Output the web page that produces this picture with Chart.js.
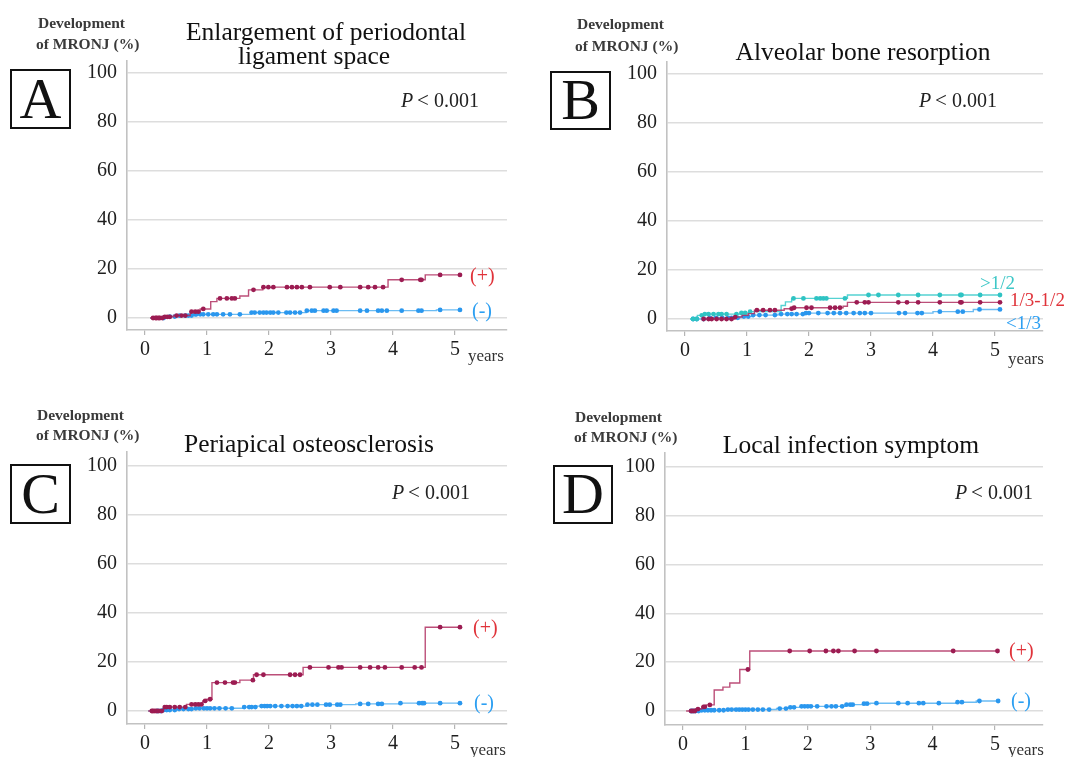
<!DOCTYPE html>
<html><head><meta charset="utf-8">
<script src="https://cdn.jsdelivr.net/npm/chart.js@4.4.1/dist/chart.umd.min.js"></script>
<style>
html,body{margin:0;padding:0;background:#fff;}
#wrap{position:relative;width:1070px;height:757px;overflow:hidden;background:#fff;}
canvas{position:absolute;}
</style></head><body>
<div id="wrap">
<canvas id="cA" width="535" height="379" style="left:0;top:0"></canvas>
<canvas id="cB" width="535" height="379" style="left:535px;top:0"></canvas>
<canvas id="cC" width="535" height="378" style="left:0;top:379px"></canvas>
<canvas id="cD" width="535" height="378" style="left:535px;top:379px"></canvas>
</div>
<script>
// ---------- DATA ----------
const xTicks = [0, 1, 2, 3, 4, 5];
const yTicks = [0, 20, 40, 60, 80, 100];

// Panel A: Enlargement of periodontal ligament space
const aPlusTimes  = [0.08, 0.30, 0.46, 0.73, 0.89, 1.06, 1.16, 1.53, 1.67, 1.90, 3.92, 4.52];
const aPlusValues = [0, 0.5, 1.0, 2.6, 3.7, 6.7, 8.0, 9.0, 11.5, 12.6, 15.6, 17.6];
const aPlusCensor = [0.13,0.17,0.19,0.22,0.24,0.28,0.32,0.36,0.40,0.51,0.59,0.65,0.75,0.81,0.86,0.94,1.21,1.32,1.40,1.45,1.75,1.91,1.99,2.07,2.29,2.37,2.45,2.53,2.66,2.98,3.15,3.47,3.60,3.71,3.84,4.14,4.44,4.46,4.76,5.08];
const aMinusTimes  = [0.08, 0.35, 0.55, 0.80, 1.70, 2.60, 4.70];
const aMinusValues = [0, 0.6, 1.0, 1.5, 2.2, 3.0, 3.3];
const aMinusCensor = [0.30,0.40,0.48,0.56,0.65,0.70,0.75,0.81,0.83,0.89,0.94,1.02,1.10,1.16,1.26,1.37,1.53,1.72,1.77,1.85,1.91,1.96,2.02,2.07,2.15,2.28,2.34,2.42,2.50,2.61,2.69,2.74,2.88,2.93,3.04,3.09,3.47,3.58,3.76,3.82,3.90,4.14,4.41,4.46,4.76,5.08];

// Panel B: Alveolar bone resorption
const bHighTimes  = [0.08, 0.20, 0.30, 0.90, 1.05, 1.55, 1.62, 1.72, 2.62];
const bHighValues = [0, 1.5, 2.0, 2.5, 3.0, 5.5, 7.0, 8.4, 9.8];
const bHighCensor = [0.13,0.19,0.27,0.32,0.38,0.46,0.54,0.59,0.67,0.83,0.91,0.97,1.05,1.75,1.91,2.12,2.18,2.23,2.28,2.58,2.96,3.12,3.44,3.76,4.11,4.44,4.46,4.76,5.08];
const bMidTimes  = [0.28, 0.80, 0.92, 1.02, 1.12, 1.60, 1.75, 2.55, 2.62];
const bMidValues = [0, 0.8, 1.5, 2.2, 3.6, 4.2, 4.6, 5.2, 6.8];
const bMidCensor = [0.30,0.38,0.43,0.51,0.59,0.67,0.75,0.81,1.16,1.26,1.37,1.45,1.72,1.76,1.96,2.04,2.34,2.42,2.50,2.77,2.90,2.96,3.44,3.58,3.76,4.11,4.44,4.46,4.76,5.08];
const bLowTimes  = [0.08, 0.40, 0.90, 1.10, 1.50, 1.95, 4.00, 4.65];
const bLowValues = [0, 0.5, 1.0, 1.6, 2.0, 2.4, 3.0, 3.9];
const bLowCensor = [0.13,0.19,0.30,0.40,0.50,0.60,0.70,0.75,0.85,0.95,1.02,1.10,1.20,1.30,1.45,1.55,1.65,1.72,1.80,1.90,1.95,2.00,2.15,2.30,2.40,2.50,2.60,2.72,2.82,2.90,3.00,3.45,3.55,3.75,3.82,4.11,4.40,4.48,4.75,5.08];

// Panel C: Periapical osteosclerosis
const cPlusTimes  = [0.05, 0.30, 0.67, 0.93, 1.00, 1.08, 1.53, 1.75, 2.55, 4.52];
const cPlusValues = [0, 1.6, 2.7, 4.1, 4.8, 11.6, 12.6, 14.8, 17.8, 34.2];
const cPlusCensor = [0.11,0.13,0.16,0.19,0.22,0.27,0.32,0.35,0.40,0.48,0.56,0.65,0.75,0.81,0.86,0.91,0.97,1.05,1.16,1.29,1.42,1.45,1.74,1.80,1.91,2.34,2.42,2.50,2.66,2.96,3.12,3.17,3.47,3.63,3.76,3.87,4.14,4.35,4.46,4.76,5.08];
const cMinusTimes  = [0.05, 0.30, 0.50, 0.80, 1.60, 1.80, 2.60, 3.40, 4.10];
const cMinusValues = [0, 0.4, 0.8, 1.1, 1.6, 2.0, 2.6, 2.9, 3.2];
const cMinusCensor = [0.20,0.25,0.30,0.35,0.40,0.48,0.55,0.62,0.70,0.75,0.82,0.88,0.95,1.00,1.05,1.12,1.20,1.30,1.40,1.60,1.68,1.72,1.78,1.88,1.93,1.97,2.02,2.10,2.20,2.30,2.38,2.45,2.52,2.62,2.70,2.78,2.92,2.98,3.10,3.15,3.47,3.60,3.76,3.82,4.12,4.42,4.47,4.50,4.76,5.08];

// Panel D: Local infection symptom
const dPlusTimes  = [0.05, 0.20, 0.30, 0.37, 0.50, 0.64, 0.75, 0.91, 1.07];
const dPlusValues = [0, 0.8, 1.7, 2.5, 8.6, 9.8, 11.5, 17.0, 24.6];
const dPlusCensor = [0.13,0.16,0.19,0.24,0.33,0.35,0.43,1.04,1.71,2.03,2.29,2.41,2.49,2.75,3.10,4.33,5.04];
const dMinusTimes  = [0.10, 0.30, 0.70, 1.50, 1.70, 1.90, 2.60, 2.90, 3.00, 4.40, 4.70];
const dMinusValues = [0, 0.3, 0.6, 1.0, 1.5, 1.9, 2.6, 3.0, 3.2, 3.6, 4.1];
const dMinusCensor = [0.13,0.16,0.20,0.25,0.30,0.35,0.40,0.45,0.50,0.58,0.65,0.72,0.78,0.85,0.90,0.95,1.00,1.05,1.12,1.20,1.28,1.38,1.55,1.65,1.72,1.78,1.90,1.95,2.00,2.05,2.15,2.30,2.38,2.45,2.55,2.62,2.68,2.72,2.90,2.95,3.10,3.45,3.60,3.78,3.85,4.10,4.40,4.47,4.75,5.05];

// ---------- STYLE ----------
const RED_LINE = 'rgba(176,48,98,0.85)', RED_DOT = '#9c1c52';
const BLUE_LINE = '#6bbcf3', BLUE_DOT = '#2a97ee';
const CYAN_LINE = '#55d2d2', CYAN_DOT = '#2fc3c3';
const LBL_RED = '#e0333a', LBL_BLUE = '#2c9ff2', LBL_CYAN = '#3ec7c7';
const SERIF = '"Liberation Serif", "Times New Roman", serif';
const TITLE_FONT = '25.5px ' + SERIF;

function stepAt(times, values, t) {
  let v = values[0];
  for (let i = 0; i < times.length; i++) if (times[i] <= t) v = values[i];
  return v;
}
function series(times, values, censor, lineColor, dotColor) {
  const end = censor[censor.length - 1];
  const line = times.map((t, i) => ({ x: t, y: values[i] }));
  line.push({ x: end, y: values[values.length - 1] });
  const dots = censor.map(c => ({ x: c, y: stepAt(times, values, c) }));
  return [
    { data: dots, showLine: false, pointRadius: 2.4, pointBackgroundColor: dotColor, pointBorderWidth: 0, borderColor: dotColor, pointHoverRadius: 0 },
    { data: line, stepped: 'before', borderColor: lineColor, borderWidth: 1.4, pointRadius: 0, fill: false }
  ];
}

const devText = (x1, b1, x2, b2) => [
  { t: 'Development', x: x1, y: b1, font: 'bold 15.5px ' + SERIF, color: '#3a3a3a' },
  { t: 'of MRONJ (%)', x: x2, y: b2, font: 'bold 15.5px ' + SERIF, color: '#3a3a3a' }
];
const pText = (x, b) => [
  { t: 'P', x: x, y: b, font: 'italic 20px ' + SERIF, color: '#222' },
  { t: '<', x: x + 16, y: b, font: '21px ' + SERIF, color: '#222' },
  { t: '0.001', x: x + 33, y: b, font: '20px ' + SERIF, color: '#222' }
];

const panels = {
  cA: {
    ox: 0, oy: 0, w: 535, h: 379,
    left: 127, right: 507, top: 61, bottom: 330, x0: 145, x5: 455, y0: 318, y100: 73,
    datasets: [...series(aPlusTimes, aPlusValues, aPlusCensor, RED_LINE, RED_DOT),
               ...series(aMinusTimes, aMinusValues, aMinusCensor, BLUE_LINE, BLUE_DOT)],
    box: { x: 11, y: 70, w: 59, h: 58, letter: 'A', base: 118 },
    texts: [
      ...devText(38, 28, 36, 49),
      { t: 'Enlargement of periodontal', x: 326, y: 40, font: TITLE_FONT, color: '#111', align: 'center' },
      { t: 'ligament space', x: 314, y: 64, font: TITLE_FONT, color: '#111', align: 'center' },
      ...pText(401, 107),
      { t: 'years', x: 468, y: 361, font: '17px ' + SERIF, color: '#333' },
      { t: '(+)', x: 470, y: 282, font: '20px ' + SERIF, color: LBL_RED },
      { t: '(-)', x: 472, y: 317, font: '20px ' + SERIF, color: LBL_BLUE }
    ]
  },
  cB: {
    ox: 535, oy: 0, w: 535, h: 379,
    left: 667, right: 1043, top: 62, bottom: 331, x0: 685, x5: 995, y0: 319, y100: 74,
    datasets: [...series(bMidTimes, bMidValues, bMidCensor, RED_LINE, RED_DOT),
               ...series(bHighTimes, bHighValues, bHighCensor, CYAN_LINE, CYAN_DOT),
               ...series(bLowTimes, bLowValues, bLowCensor, BLUE_LINE, BLUE_DOT)],
    box: { x: 551, y: 72, w: 59, h: 57, letter: 'B', base: 119 },
    texts: [
      ...devText(577, 29, 575, 51),
      { t: 'Alveolar bone resorption', x: 863, y: 60, font: TITLE_FONT, color: '#111', align: 'center' },
      ...pText(919, 107),
      { t: 'years', x: 1008, y: 364, font: '17px ' + SERIF, color: '#333' },
      { t: '>1/2', x: 980, y: 289, font: '19px ' + SERIF, color: LBL_CYAN },
      { t: '1/3-1/2', x: 1010, y: 306, font: '19px ' + SERIF, color: LBL_RED },
      { t: '<1/3', x: 1006, y: 329, font: '19px ' + SERIF, color: LBL_BLUE }
    ]
  },
  cC: {
    ox: 0, oy: 379, w: 535, h: 378,
    left: 127, right: 507, top: 452, bottom: 724, x0: 145, x5: 455, y0: 711, y100: 466,
    datasets: [...series(cPlusTimes, cPlusValues, cPlusCensor, RED_LINE, RED_DOT),
               ...series(cMinusTimes, cMinusValues, cMinusCensor, BLUE_LINE, BLUE_DOT)],
    box: { x: 11, y: 465, w: 59, h: 58, letter: 'C', base: 513 },
    texts: [
      ...devText(37, 420, 36, 440),
      { t: 'Periapical osteosclerosis', x: 309, y: 452, font: TITLE_FONT, color: '#111', align: 'center' },
      ...pText(392, 499),
      { t: 'years', x: 470, y: 755, font: '17px ' + SERIF, color: '#333' },
      { t: '(+)', x: 473, y: 634, font: '20px ' + SERIF, color: LBL_RED },
      { t: '(-)', x: 474, y: 709, font: '20px ' + SERIF, color: LBL_BLUE }
    ]
  },
  cD: {
    ox: 535, oy: 379, w: 535, h: 378,
    left: 665, right: 1043, top: 453, bottom: 725, x0: 683, x5: 995, y0: 711, y100: 467,
    datasets: [...series(dPlusTimes, dPlusValues, dPlusCensor, RED_LINE, RED_DOT),
               ...series(dMinusTimes, dMinusValues, dMinusCensor, BLUE_LINE, BLUE_DOT)],
    box: { x: 554, y: 466, w: 58, h: 57, letter: 'D', base: 513 },
    texts: [
      ...devText(575, 422, 574, 442),
      { t: 'Local infection symptom', x: 851, y: 453, font: TITLE_FONT, color: '#111', align: 'center' },
      ...pText(955, 499),
      { t: 'years', x: 1008, y: 755, font: '17px ' + SERIF, color: '#333' },
      { t: '(+)', x: 1009, y: 657, font: '20px ' + SERIF, color: LBL_RED },
      { t: '(-)', x: 1011, y: 707, font: '20px ' + SERIF, color: LBL_BLUE }
    ]
  }
};

const textPlugin = {
  id: 'panelText',
  afterDraw(chart) {
    const p = panels[chart.canvas.id];
    const ctx = chart.ctx;
    ctx.save();
    ctx.translate(-p.ox, -p.oy);
    ctx.textBaseline = 'alphabetic';
    for (const s of p.texts) {
      ctx.font = s.font;
      ctx.fillStyle = s.color;
      ctx.textAlign = s.align || 'left';
      ctx.fillText(s.t, s.x, s.y);
    }
    const b = p.box;
    ctx.lineWidth = 2;
    ctx.strokeStyle = '#111';
    ctx.strokeRect(b.x, b.y, b.w, b.h);
    ctx.font = '58px ' + SERIF;
    ctx.fillStyle = '#111';
    ctx.textAlign = 'center';
    ctx.fillText(b.letter, b.x + b.w / 2, b.base);
    ctx.restore();
  }
};

for (const id of Object.keys(panels)) {
  const p = panels[id];
  const pxYear = (p.x5 - p.x0) / 5;
  const pxPct = (p.y0 - p.y100) / 100;
  const xmin = (p.left - p.x0) / pxYear, xmax = (p.right - p.x0) / pxYear;
  const ymin = -(p.bottom - p.y0) / pxPct, ymax = (p.y0 - p.top) / pxPct;
  const yW = p.left - p.ox, xH = p.oy + p.h - p.bottom;
  new Chart(document.getElementById(id), {
    type: 'line',
    data: { datasets: p.datasets },
    plugins: [textPlugin],
    options: {
      responsive: false, animation: false, devicePixelRatio: 1,
      layout: { padding: { left: 0, bottom: 0, top: p.top - p.oy, right: p.ox + p.w - p.right } },
      plugins: { legend: { display: false }, tooltip: { enabled: false } },
      events: [],
      scales: {
        x: {
          type: 'linear', min: xmin, max: xmax,
          afterBuildTicks: s => { s.ticks = xTicks.map(v => ({ value: v })); },
          afterFit: s => { s.height = xH; },
          grid: { drawOnChartArea: false, drawTicks: true, tickLength: 5, color: '#b5b5b5', lineWidth: 1.2 },
          border: { display: true, color: '#c2c2c2', width: 1.6 },
          ticks: { font: { family: SERIF, size: 20 }, color: '#1e1e1e', padding: 3, maxRotation: 0, autoSkip: false }
        },
        y: {
          type: 'linear', min: ymin, max: ymax,
          afterBuildTicks: s => { s.ticks = yTicks.map(v => ({ value: v })); },
          afterFit: s => { s.width = yW; },
          grid: { color: '#dddddd', lineWidth: 1.5, drawTicks: false },
          border: { display: true, color: '#c2c2c2', width: 1.6 },
          ticks: { font: { family: SERIF, size: 20 }, color: '#1e1e1e', padding: 10 }
        }
      }
    }
  });
}
</script>
</body></html>
